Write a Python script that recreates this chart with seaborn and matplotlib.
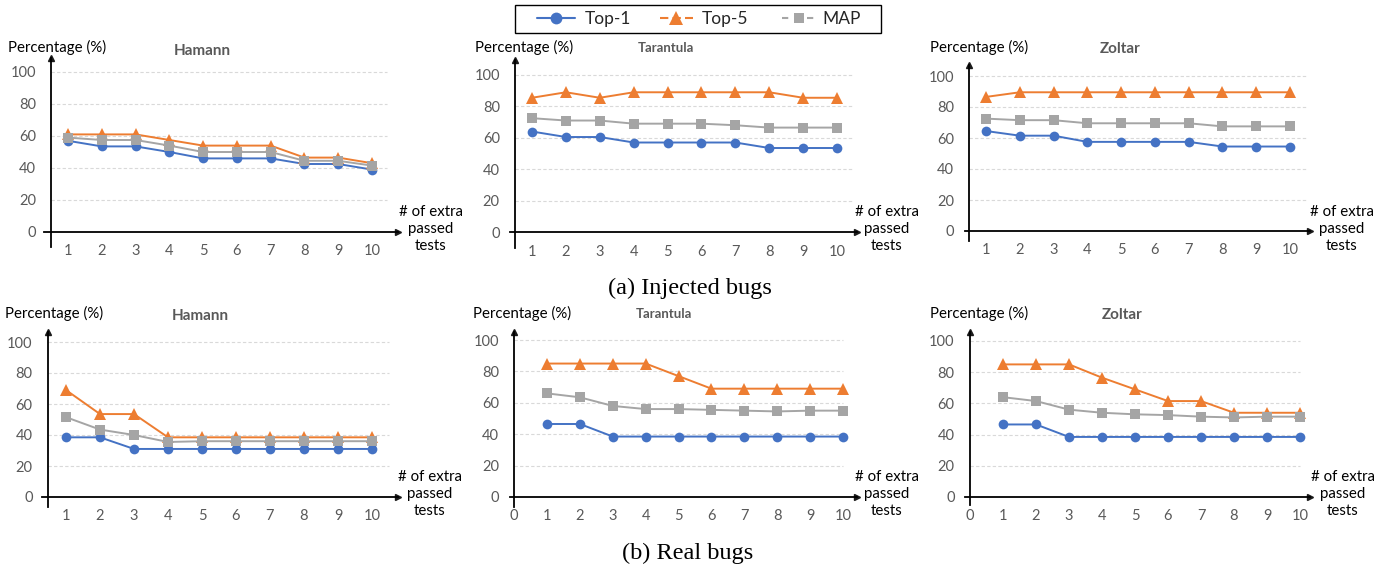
import numpy as np
import pandas as pd
import matplotlib
matplotlib.use("Agg")
import matplotlib.pyplot as plt
import seaborn as sns
from matplotlib.lines import Line2D
from matplotlib.patches import Rectangle

sns.set_theme(style="white")
plt.rcParams['font.family'] = ['Lato', 'DejaVu Sans']

# ---------------- data ----------------
x_values = [1, 2, 3, 4, 5, 6, 7, 8, 9, 10]
metrics = ["Top-1", "Top-5", "MAP"]
panel_titles = ["Hamann", "Tarantula", "Zoltar", "Hamann", "Tarantula", "Zoltar"]
y_ticks = [0, 20, 40, 60, 80, 100]

inj_hamann_top1 = [57, 53.5, 53.5, 50, 46, 46, 46, 42.5, 42.5, 39]
inj_hamann_top5 = [61, 61, 61, 57.5, 54, 54, 54, 46.5, 46.5, 43]
inj_hamann_map = [59, 57.5, 57.5, 54, 50, 50, 50, 44.5, 44.5, 41.5]

inj_tarantula_top1 = [64, 60.5, 60.5, 57, 57, 57, 57, 53.5, 53.5, 53.5]
inj_tarantula_top5 = [85.5, 89, 85.5, 89, 89, 89, 89, 89, 85.5, 85.5]
inj_tarantula_map = [72.5, 71, 71, 69, 69, 69, 68, 66.5, 66.5, 66.5]

inj_zoltar_top1 = [64.5, 61.5, 61.5, 57.5, 57.5, 57.5, 57.5, 54.5, 54.5, 54.5]
inj_zoltar_top5 = [86.5, 89.5, 89.5, 89.5, 89.5, 89.5, 89.5, 89.5, 89.5, 89.5]
inj_zoltar_map = [72.5, 71.5, 71.5, 69.5, 69.5, 69.5, 69.5, 67.5, 67.5, 67.5]

real_hamann_top1 = [38.5, 38.5, 31, 31, 31, 31, 31, 31, 31, 31]
real_hamann_top5 = [69, 53.5, 53.5, 38.5, 38.5, 38.5, 38.5, 38.5, 38.5, 38.5]
real_hamann_map = [51.5, 43.5, 40, 35.5, 36, 36, 36, 36, 36, 36]

real_tarantula_top1 = [46.5, 46.5, 38.5, 38.5, 38.5, 38.5, 38.5, 38.5, 38.5, 38.5]
real_tarantula_top5 = [85, 85, 85, 85, 77, 69, 69, 69, 69, 69]
real_tarantula_map = [66, 63.5, 58, 56, 56, 55.5, 55, 54.5, 55, 55]

real_zoltar_top1 = [46.5, 46.5, 38.5, 38.5, 38.5, 38.5, 38.5, 38.5, 38.5, 38.5]
real_zoltar_top5 = [85, 85, 85, 76.5, 69, 61.5, 61.5, 54, 54, 54]
real_zoltar_map = [64, 61.5, 56, 54, 53, 52.5, 51.5, 51, 51.5, 51.5]

panel_series = [
    (inj_hamann_top1, inj_hamann_top5, inj_hamann_map),
    (inj_tarantula_top1, inj_tarantula_top5, inj_tarantula_map),
    (inj_zoltar_top1, inj_zoltar_top5, inj_zoltar_map),
    (real_hamann_top1, real_hamann_top5, real_hamann_map),
    (real_tarantula_top1, real_tarantula_top5, real_tarantula_map),
    (real_zoltar_top1, real_zoltar_top5, real_zoltar_map),
]

rows = []
for p, series in enumerate(panel_series):
    for m, vals in zip(metrics, series):
        for xv, v in zip(x_values, vals):
            rows.append({"panel": p, "metric": m, "x": xv, "value": v})
df = pd.DataFrame(rows)

# ---------------- layout / style ----------------
W, H = 1392, 571
fig = plt.figure(figsize=(W / 100, H / 100), dpi=100)

colors = {"Top-1": "#4472C4", "Top-5": "#ED7D31", "MAP": "#A5A5A5"}
marker_map = {"Top-1": "o", "Top-5": "^", "MAP": "s"}
tick_color = "#595959"

# x1px, x10px, y0px, y100px, xmin, xmax, ymin, ymax, yaxis_x, grid_end, show_zero_tick
specs = [
    (68, 372, 232, 72, 0.29, 10.77, -9.4, 108.7, 0.5, 10.45, False),
    (532, 837, 232, 75, 0.35, 10.59, -10.2, 109.5, 0.5, 10.47, False),
    (986, 1290, 231, 76, 0.38, 10.59, -6.5, 107.0, 0.5, 10.5, False),
    (66, 372, 497, 342, 0.29, 10.76, -6.5, 106.5, 0.47, 10.5, False),
    (547, 843, 497, 340, -0.12, 10.42, -6.4, 105.0, 0.0, 10.0, True),
    (1003, 1300, 497, 341, -0.15, 10.30, -5.0, 106.0, 0.0, 10.0, True),
]
perc_pos = [(8, 47), (475, 47), (930, 47), (5, 313), (473, 313), (930, 313)]
title_pos = [(202, 51, 11), (666, 48, 9.5), (1120, 49, 11),
             (200, 316, 11), (664, 314, 9.5), (1122, 315, 11)]
extra_pos = [(431, 229), (887, 229), (1342, 229), (430, 494), (887, 494), (1343, 494)]

for p, spec in enumerate(specs):
    x1, x10, y0, y100, xmin, xmax, ymin, ymax, yax, gend, zero_tick = spec
    step = (x10 - x1) / 9.0
    pxu = (y0 - y100) / 100.0
    left = x1 - (1 - xmin) * step
    width = (xmax - xmin) * step
    bottom_px = y0 - ymin * pxu
    height = (ymax - ymin) * pxu
    ax = fig.add_axes([left / W, 1 - bottom_px / H, width / W, height / H])
    ax.set_facecolor("none")

    sub = df[df["panel"] == p]
    ax.hlines([20, 40, 60, 80, 100], yax, gend, colors="#D9D9D9",
              linestyles=(0, (3, 2)), linewidth=0.8, zorder=0)
    sns.lineplot(data=sub, x="x", y="value", hue="metric", style="metric",
                 hue_order=metrics, style_order=metrics, palette=colors,
                 markers=marker_map, dashes=False, ax=ax, legend=False,
                 linewidth=1.4, markersize=7, markeredgewidth=0, zorder=3)
    for ln in ax.lines:
        if ln.get_marker() == "^":
            ln.set_markersize(8.5)
        if ln.get_marker() == "s":
            ln.set_markersize(7)

    ax.set_xlim(xmin, xmax)
    ax.set_ylim(ymin, ymax)
    ax.set_xlabel("")
    ax.set_ylabel("")
    ax.set_xticks(([0] if zero_tick else []) + x_values)
    ax.set_yticks(y_ticks)
    ax.tick_params(axis="both", length=0, labelsize=10.5, labelcolor=tick_color)
    ax.tick_params(axis="x", pad=9)
    ax.tick_params(axis="y", pad=11)
    ax.spines["top"].set_visible(False)
    ax.spines["right"].set_visible(False)
    ax.spines["left"].set_position(("data", yax))
    ax.spines["bottom"].set_position(("data", 0))
    for s in ("left", "bottom"):
        ax.spines[s].set_color("black")
        ax.spines[s].set_linewidth(1.3)
    ax.plot(1, 0, ">k", transform=ax.get_yaxis_transform(), clip_on=False, ms=5)
    ax.plot(yax, 1, "^k", transform=ax.get_xaxis_transform(), clip_on=False, ms=5)
    ax.grid(False)

    px, py = perc_pos[p]
    fig.text(px / W, 1 - py / H, "Percentage (%)", ha="left", va="center",
             fontsize=10.8, color="black")
    tx, ty, ts = title_pos[p]
    fig.text(tx / W, 1 - ty / H, panel_titles[p], ha="center", va="center",
             fontsize=ts, fontweight="bold", color=tick_color)
    ex, ey = extra_pos[p]
    fig.text(ex / W, 1 - ey / H, "# of extra\npassed\ntests", ha="center",
             va="center", fontsize=10.8, color="black", linespacing=1.3)

fig.text(690 / W, 1 - 288 / H, "(a) Injected bugs", ha="center", va="center",
         fontsize=17.5, family="Liberation Serif", color="black")
fig.text(688 / W, 1 - 553 / H, "(b) Real bugs", ha="center", va="center",
         fontsize=17.5, family="Liberation Serif", color="black")

# legend
fig.add_artist(Rectangle((515 / W, 1 - 33 / H), 366 / W, 28 / H,
                         transform=fig.transFigure, facecolor="white",
                         edgecolor="black", linewidth=1.0, zorder=5))
handles = [
    Line2D([], [], color=colors["Top-1"], marker="o", ms=8.5, mew=0, lw=1.5),
    Line2D([], [], color=colors["Top-5"], marker="^", ms=10, mew=0, lw=1.5,
           linestyle=(0, (4, 2))),
    Line2D([], [], color=colors["MAP"], marker="s", ms=7.5, mew=0, lw=1.5,
           linestyle=(0, (3, 3))),
]
leg_x = [537, 660, 782]
leg_hl = [2.2, 1.9, 2.0]
leg_pad = [0.57, 0.5, 0.35]
for h, lab, lx, hl, tp in zip(handles, metrics, leg_x, leg_hl, leg_pad):
    leg = fig.legend([h], [lab], loc="center left",
                     bbox_to_anchor=(lx / W, 1 - 19 / H), frameon=False,
                     fontsize=12.5, handlelength=hl, handletextpad=tp,
                     borderpad=0, borderaxespad=0)
    leg.set_zorder(6)

fig.savefig("out.png", dpi=100)
